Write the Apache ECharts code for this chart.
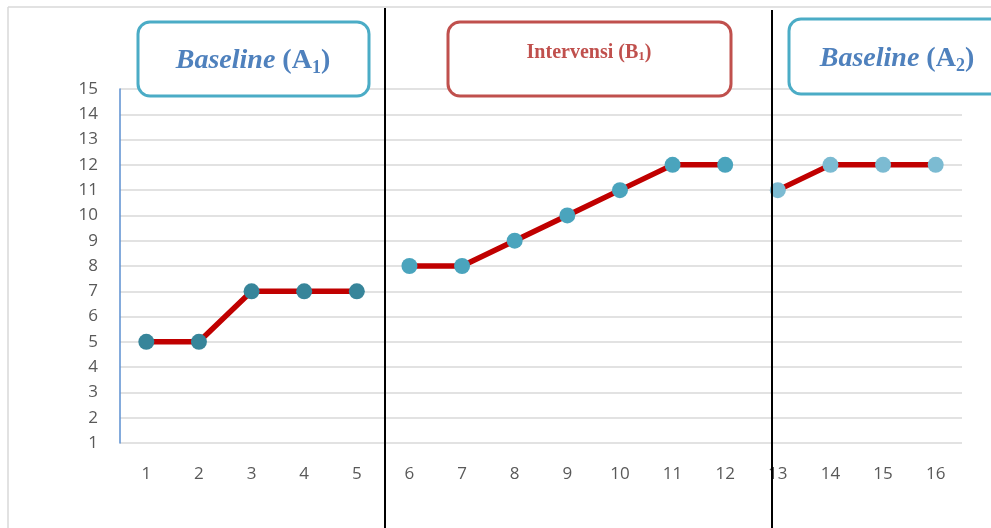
<!DOCTYPE html>
<html>
<head>
<meta charset="utf-8">
<script src="https://cdn.jsdelivr.net/npm/echarts@6/dist/echarts.min.js"></script>
<style>html,body{margin:0;padding:0;background:#fff}#c{width:991px;height:528px}</style>
</head>
<body>
<div id="c"></div>
<script>
var categories = ['1','2','3','4','5','6','7','8','9','10','11','12','13','14','15','16'];
var baselineA1 = [5, 5, 7, 7, 7, '-', '-', '-', '-', '-', '-', '-', '-', '-', '-', '-'];
var interventionB1 = ['-', '-', '-', '-', '-', 8, 8, 9, 10, 11, 12, 12, '-', '-', '-', '-'];
var baselineA2 = ['-', '-', '-', '-', '-', '-', '-', '-', '-', '-', '-', '-', 11, 12, 12, 12];
var yTicks = {min: 1, max: 15, interval: 1};

var chart = echarts.init(document.getElementById('c'), null, {renderer: 'canvas'});
var labelFont = '"Open Sans", "Noto Sans", sans-serif';
function lineSeries(name, data, markerColor) {
  return {
    name: name, type: 'line', data: data,
    symbol: 'circle', symbolSize: 16,
    lineStyle: {color: '#c00000', width: 5.5},
    itemStyle: {color: markerColor, borderWidth: 0},
    z: 3, animation: false
  };
}
var serif = '"Liberation Serif", "DejaVu Serif", serif';
chart.setOption({
  backgroundColor: '#fff',
  animation: false,
  grid: {left: 120, right: 29, top: 89, bottom: 85},
  xAxis: {
    type: 'category', data: categories, boundaryGap: true,
    axisLine: {show: false}, axisTick: {show: false},
    axisLabel: {color: '#595959', fontSize: 17, fontFamily: labelFont, margin: 23}
  },
  yAxis: {
    type: 'value', min: yTicks.min, max: yTicks.max, interval: yTicks.interval,
    axisLine: {show: true, lineStyle: {color: '#5b8fd0', width: 1.5}},
    axisTick: {show: false},
    axisLabel: {color: '#595959', fontSize: 17, fontFamily: labelFont, margin: 22},
    splitLine: {lineStyle: {color: '#d9d9d9', width: 1.5}}
  },
  series: [
    lineSeries('Baseline (A1)', baselineA1, '#37859a'),
    lineSeries('Intervensi (B1)', interventionB1, '#4aa4bd'),
    lineSeries('Baseline (A2)', baselineA2, '#7cbbd2')
  ],
  graphic: [
    {type: 'line', shape: {x1: 8, y1: 7, x2: 991, y2: 7}, style: {stroke: '#d9d9d9', lineWidth: 1.5}, silent: true},
    {type: 'line', shape: {x1: 8, y1: 7, x2: 8, y2: 528}, style: {stroke: '#d9d9d9', lineWidth: 1.5}, silent: true},
    {type: 'line', shape: {x1: 385, y1: 8, x2: 385, y2: 528}, style: {stroke: '#000', lineWidth: 2}, z: 10, silent: true},
    {type: 'line', shape: {x1: 772, y1: 10, x2: 772, y2: 528}, style: {stroke: '#000', lineWidth: 2}, z: 10, silent: true},
    {type: 'rect', shape: {x: 138, y: 22, width: 231, height: 74, r: 12}, style: {fill: '#fff', stroke: '#4bacc6', lineWidth: 3}, z: 20},
    {type: 'text', x: 253, y: 61, z: 21, style: {
      text: '{i|Baseline}{b| (A}{s|1}{b|)}', align: 'center', verticalAlign: 'middle',
      rich: {
        i: {fontFamily: serif, fontSize: 28, fontWeight: 'bold', fontStyle: 'italic', fill: '#4f81bd'},
        b: {fontFamily: serif, fontSize: 28, fontWeight: 'bold', fill: '#4f81bd'},
        s: {fontFamily: serif, fontSize: 18, fontWeight: 'bold', fill: '#4f81bd', padding: [14, 0, 0, 0]}
      }}},
    {type: 'rect', shape: {x: 448, y: 22, width: 283, height: 74, r: 12}, style: {fill: '#fff', stroke: '#c0504d', lineWidth: 3}, z: 20},
    {type: 'text', x: 589, y: 53, z: 21, style: {
      text: '{b|Intervensi (B}{s|1}{b|)}', align: 'center', verticalAlign: 'middle',
      rich: {
        b: {fontFamily: serif, fontSize: 20, fontWeight: 'bold', fill: '#c0504d'},
        s: {fontFamily: serif, fontSize: 13, fontWeight: 'bold', fill: '#c0504d', padding: [7, 0, 0, 0]}
      }}},
    {type: 'rect', shape: {x: 789, y: 19, width: 230, height: 75, r: 12}, style: {fill: '#fff', stroke: '#4bacc6', lineWidth: 3}, z: 20},
    {type: 'text', x: 897, y: 59, z: 21, style: {
      text: '{i|Baseline}{b| (A}{s|2}{b|)}', align: 'center', verticalAlign: 'middle',
      rich: {
        i: {fontFamily: serif, fontSize: 28, fontWeight: 'bold', fontStyle: 'italic', fill: '#4f81bd'},
        b: {fontFamily: serif, fontSize: 28, fontWeight: 'bold', fill: '#4f81bd'},
        s: {fontFamily: serif, fontSize: 18, fontWeight: 'bold', fill: '#4f81bd', padding: [14, 0, 0, 0]}
      }}}
  ]
});
</script>
</body>
</html>
